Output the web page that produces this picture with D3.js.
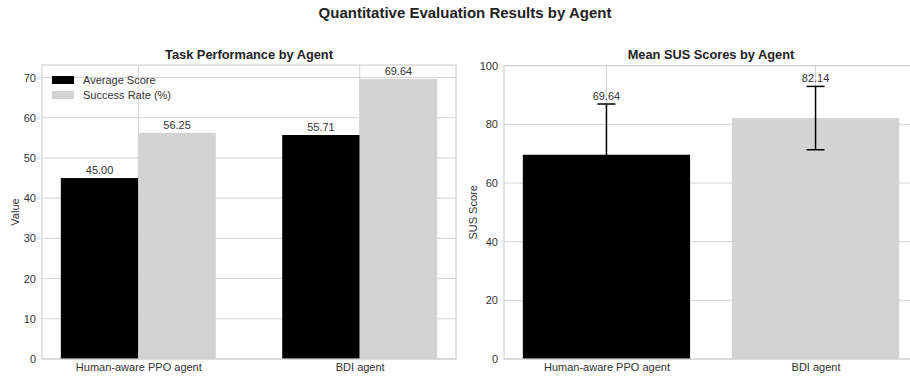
<!DOCTYPE html>
<html>
<head>
<meta charset="utf-8">
<script src="https://cdn.jsdelivr.net/npm/d3@7"></script>
<style>
  body { margin: 0; background: #fff; }
  svg { font-family: "Liberation Sans", Arial, sans-serif; }
  .tick text { fill: #333; font-size: 11px; }
</style>
</head>
<body>
<div id="chart"></div>
<script>
var agents = ["Human-aware PPO agent", "BDI agent"];
var seriesKeys = ["Average Score", "Success Rate (%)"];
var avgScore = [45.00, 55.71];
var successRate = [56.25, 69.64];
var susMean = [69.64, 82.14];
var susErr = [17.3, 10.8];
var leftTicks = [0, 10, 20, 30, 40, 50, 60, 70];
var rightTicks = [0, 20, 40, 60, 80, 100];

var width = 910, height = 377;
var gridColor = "#d3d3d3";
var colors = ["#000000", "#d3d3d3"];

var svg = d3.select("#chart").append("svg")
    .attr("width", width)
    .attr("height", height);

svg.append("text")
    .attr("x", 465).attr("y", 18)
    .attr("text-anchor", "middle")
    .attr("font-size", "15px").attr("font-weight", "bold").attr("fill", "#222")
    .text("Quantitative Evaluation Results by Agent");

// ---- left panel: grouped bars
var L = {left: 42, right: 456, top: 65, bottom: 359};

var xL = d3.scaleLinear().domain([-0.435, 1.435]).range([L.left, L.right]);
var yL = d3.scaleLinear().domain([0, 73.12]).range([L.bottom, L.top]);
var barW = 0.35;

var gL = svg.append("g");

gL.selectAll(".hgrid").data(leftTicks).enter().append("line")
    .attr("x1", L.left).attr("x2", L.right)
    .attr("y1", d => yL(d)).attr("y2", d => yL(d))
    .attr("stroke", gridColor).attr("stroke-width", 1);
gL.selectAll(".vgrid").data(agents).enter().append("line")
    .attr("x1", (d, i) => xL(i)).attr("x2", (d, i) => xL(i))
    .attr("y1", L.top).attr("y2", L.bottom)
    .attr("stroke", gridColor).attr("stroke-width", 1);

var leftData = [avgScore, successRate];
leftData.forEach(function(vals, s) {
    var off = s === 0 ? -barW / 2 : barW / 2;
    gL.selectAll(".bar" + s).data(vals).enter().append("rect")
        .attr("x", (d, i) => xL(i + off - barW / 2))
        .attr("width", xL(barW) - xL(0))
        .attr("y", d => yL(d))
        .attr("height", d => yL(0) - yL(d))
        .attr("fill", colors[s]);
    gL.selectAll(".lab" + s).data(vals).enter().append("text")
        .attr("x", (d, i) => xL(i + off))
        .attr("y", d => yL(d) - 4)
        .attr("text-anchor", "middle")
        .attr("font-size", "11px").attr("fill", "#333")
        .text(d => d.toFixed(2));
});

gL.append("rect")
    .attr("x", L.left).attr("y", L.top)
    .attr("width", L.right - L.left).attr("height", L.bottom - L.top)
    .attr("fill", "none").attr("stroke", gridColor).attr("stroke-width", 1.2);

var yAxisL = gL.append("g")
    .attr("transform", `translate(${L.left},0)`)
    .call(d3.axisLeft(yL).tickValues(leftTicks).tickSize(0).tickPadding(6));
yAxisL.select(".domain").remove();

var xAxisL = gL.append("g")
    .attr("transform", `translate(0,${L.bottom})`)
    .call(d3.axisBottom(xL).tickValues([0, 1]).tickFormat(i => agents[i]).tickSize(0).tickPadding(4));
xAxisL.select(".domain").remove();

gL.append("text")
    .attr("transform", `translate(19,${(L.top + L.bottom) / 2}) rotate(-90)`)
    .attr("text-anchor", "middle").attr("font-size", "11px").attr("fill", "#333")
    .text("Value");

gL.append("text")
    .attr("x", (L.left + L.right) / 2).attr("y", 59)
    .attr("text-anchor", "middle")
    .attr("font-size", "12.8px").attr("font-weight", "bold").attr("fill", "#222")
    .text("Task Performance by Agent");

// legend
var legend = gL.selectAll(".legend").data(seriesKeys).enter().append("g")
    .attr("transform", (d, i) => `translate(52,${76 + i * 15})`);
legend.append("rect")
    .attr("width", 22).attr("height", 8)
    .attr("fill", (d, i) => colors[i]);
legend.append("text")
    .attr("x", 31).attr("y", 8)
    .attr("font-size", "11px").attr("fill", "#333")
    .text(d => d);

// ---- right panel: SUS scores with error bars
var R = {left: 504, right: 918, top: 65.7, bottom: 359};

var xR = d3.scaleLinear().domain([-0.49, 1.49]).range([R.left, R.right]);
var yR = d3.scaleLinear().domain([0, 100]).range([R.bottom, R.top]);
var barW2 = 0.8;

var gR = svg.append("g");

gR.selectAll(".hgrid").data(rightTicks).enter().append("line")
    .attr("x1", R.left).attr("x2", R.right)
    .attr("y1", d => yR(d)).attr("y2", d => yR(d))
    .attr("stroke", gridColor).attr("stroke-width", 1);
gR.selectAll(".vgrid").data(agents).enter().append("line")
    .attr("x1", (d, i) => xR(i)).attr("x2", (d, i) => xR(i))
    .attr("y1", R.top).attr("y2", R.bottom)
    .attr("stroke", gridColor).attr("stroke-width", 1);

gR.selectAll(".susbar").data(susMean).enter().append("rect")
    .attr("x", (d, i) => xR(i - barW2 / 2))
    .attr("width", xR(barW2) - xR(0))
    .attr("y", d => yR(d))
    .attr("height", d => yR(0) - yR(d))
    .attr("fill", (d, i) => colors[i]);

var capW = 9;
var err = gR.selectAll(".err").data(susMean).enter().append("g")
    .attr("stroke", "#000").attr("stroke-width", 1.5);
err.append("line")
    .attr("x1", (d, i) => xR(i)).attr("x2", (d, i) => xR(i))
    .attr("y1", (d, i) => yR(d - susErr[i])).attr("y2", (d, i) => yR(d + susErr[i]));
err.append("line")
    .attr("x1", (d, i) => xR(i) - capW).attr("x2", (d, i) => xR(i) + capW)
    .attr("y1", (d, i) => yR(d + susErr[i])).attr("y2", (d, i) => yR(d + susErr[i]));
err.append("line")
    .attr("x1", (d, i) => xR(i) - capW).attr("x2", (d, i) => xR(i) + capW)
    .attr("y1", (d, i) => yR(d - susErr[i])).attr("y2", (d, i) => yR(d - susErr[i]));

gR.selectAll(".suslab").data(susMean).enter().append("text")
    .attr("x", (d, i) => xR(i))
    .attr("y", (d, i) => yR(d + susErr[i]) - 4)
    .attr("text-anchor", "middle")
    .attr("font-size", "11px").attr("fill", "#333")
    .text(d => d.toFixed(2));

gR.append("rect")
    .attr("x", R.left).attr("y", R.top)
    .attr("width", R.right - R.left).attr("height", R.bottom - R.top)
    .attr("fill", "none").attr("stroke", gridColor).attr("stroke-width", 1.2);

var yAxisR = gR.append("g")
    .attr("transform", `translate(${R.left},0)`)
    .call(d3.axisLeft(yR).tickValues(rightTicks).tickSize(0).tickPadding(6));
yAxisR.select(".domain").remove();

var xAxisR = gR.append("g")
    .attr("transform", `translate(0,${R.bottom})`)
    .call(d3.axisBottom(xR).tickValues([0, 1]).tickFormat(i => agents[i]).tickSize(0).tickPadding(4));
xAxisR.select(".domain").remove();

gR.append("text")
    .attr("transform", `translate(477,${(R.top + R.bottom) / 2}) rotate(-90)`)
    .attr("text-anchor", "middle").attr("font-size", "11px").attr("fill", "#333")
    .text("SUS Score");

gR.append("text")
    .attr("x", (R.left + R.right) / 2).attr("y", 59)
    .attr("text-anchor", "middle")
    .attr("font-size", "12.8px").attr("font-weight", "bold").attr("fill", "#222")
    .text("Mean SUS Scores by Agent");
</script>
</body>
</html>
